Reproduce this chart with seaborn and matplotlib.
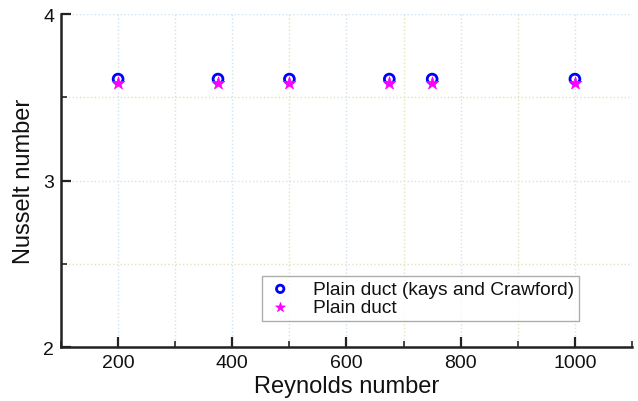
import matplotlib
matplotlib.use("Agg")
import matplotlib.pyplot as plt
import seaborn as sns
import pandas as pd
from matplotlib.ticker import MultipleLocator

reynolds = [200, 375, 500, 675, 750, 1000]
nu_kays = [3.61, 3.61, 3.61, 3.61, 3.61, 3.61]
nu_plain = [3.585, 3.585, 3.585, 3.585, 3.585, 3.585]
label_kays = "Plain duct (kays and Crawford)"
label_plain = "Plain duct"

sns.set_style("white")
plt.rcParams['font.family'] = ['Liberation Sans', 'DejaVu Sans']
plt.rcParams['text.color'] = '#111111'

fig = plt.figure(figsize=(6.38, 4.02), dpi=100)
ax = fig.add_axes([0.0956, 0.1343, 0.895, 0.828])

df_k = pd.DataFrame({"Re": reynolds, "Nu": nu_kays})
df_p = pd.DataFrame({"Re": reynolds, "Nu": nu_plain})

sns.scatterplot(data=df_k, x="Re", y="Nu", ax=ax, marker="o", s=50,
                facecolors="none", edgecolor="#0000ff", linewidth=2,
                label=label_kays, zorder=3)
sns.scatterplot(data=df_p, x="Re", y="Nu", ax=ax, marker="*", s=95,
                color="#ff00ff", edgecolor="#ff00ff", linewidth=0.5,
                label=label_plain, zorder=4)

ax.set_xlim(100, 1100)
ax.set_ylim(2, 4)
ax.xaxis.set_major_locator(MultipleLocator(200))
ax.xaxis.set_minor_locator(MultipleLocator(100))
ax.yaxis.set_major_locator(MultipleLocator(1))
ax.yaxis.set_minor_locator(MultipleLocator(0.5))

ax.grid(which="major", color="#cfe3f0", linestyle=":", linewidth=1)
ax.grid(which="minor", color="#e3e3b8", linestyle=":", linewidth=1)
ax.set_axisbelow(True)

for s in ["top", "right"]:
    ax.spines[s].set_visible(False)
for s in ["left", "bottom"]:
    ax.spines[s].set_linewidth(1.8)
    ax.spines[s].set_color("#222222")

ax.tick_params(which="major", direction="in", length=7, width=1.6, labelsize=14,
               colors="#222222", labelcolor="#111111", left=True, bottom=True, pad=5)
ax.tick_params(which="minor", direction="in", length=4, width=1.2, left=True, bottom=True)
ax.set_xticks([200, 400, 600, 800, 1000])
ax.set_yticks([2, 3, 4])
ax.set_yticklabels(["2", "3", "4"])

ax.set_xlabel("Reynolds number", fontsize=17, labelpad=3, color="#111111")
ax.set_ylabel("Nusselt number", fontsize=17, labelpad=6, color="#111111")

leg = ax.legend(loc="lower left", bbox_to_anchor=(0.352, 0.078), fontsize=13.8,
                frameon=True, fancybox=False, edgecolor="#999999",
                borderpad=0.25, handletextpad=1.0, labelspacing=0.05, borderaxespad=0,
                handlelength=1.4, markerscale=0.75)
leg.get_frame().set_linewidth(1.0)

fig.savefig("out.png", dpi=100)
